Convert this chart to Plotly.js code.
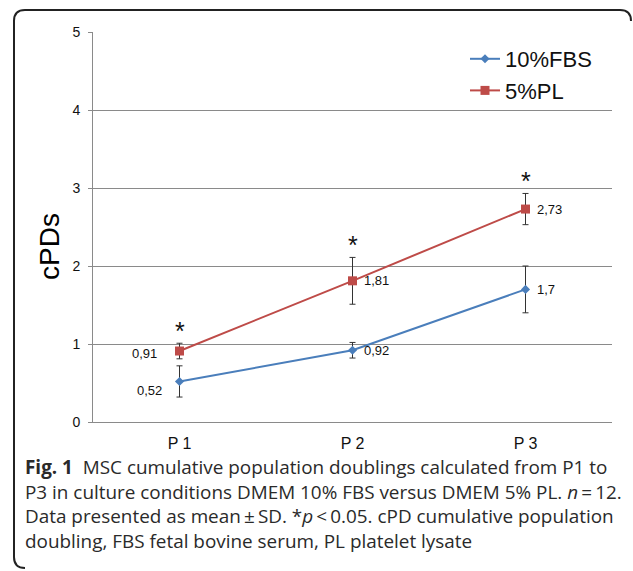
<!DOCTYPE html>
<html>
<head>
<meta charset="utf-8">
<script src="https://cdn.plot.ly/plotly-3.0.1.min.js"></script>
<style>
  html, body { margin: 0; padding: 0; background: #fff; }
  #chart { width: 633px; height: 571px; }
</style>
</head>
<body>
<div id="chart"></div>
<script>
// ---- data ----
var categories = ['P 1', 'P 2', 'P 3'];
var fbsMean = [0.52, 0.92, 1.70];
var fbsSd   = [0.20, 0.10, 0.30];
var plMean  = [0.91, 1.81, 2.73];
var plSd    = [0.10, 0.30, 0.20];
var seriesNames = ['10%FBS', '5%PL'];
var yTicks = [0, 1, 2, 3, 4, 5];
var captionLines = [
  '<b>Fig. 1</b>\u00a0\u00a0MSC cumulative population doublings calculated from P1 to',
  'P3 in culture conditions DMEM 10% FBS versus DMEM 5% PL. <i>n</i>\u2009=\u200912.',
  'Data presented as mean\u2009\u00b1\u2009SD. *<i>p</i>\u2009<\u20090.05. cPD cumulative population',
  'doubling, FBS fetal bovine serum, PL platelet lysate'
];

// ---- layout geometry ----
var W = 633, H = 571;
var M = {l: 93, r: 21, t: 32, b: 149};
var PW = W - M.l - M.r, PH = H - M.t - M.b;
function px(x) { return (x - M.l) / PW; }
function py(y) { return (H - M.b - y) / PH; }

function fmt(v) { return String(Math.round(v * 100) / 100).replace('.', ','); }

var blue = '#4A7EBB', red = '#BE4B48';
var arial = 'Liberation Sans, Arial, sans-serif';
var labelFont = {family: arial, size: 13, color: '#111'};

var traces = [
  {
    x: categories, y: fbsMean, name: seriesNames[0], type: 'scatter',
    mode: 'lines+markers',
    line: {color: blue, width: 2},
    marker: {symbol: 'diamond', size: 7, color: blue},
    error_y: {type: 'data', array: fbsSd, visible: true, color: '#333', thickness: 1, width: 3}
  },
  {
    x: categories, y: plMean, name: seriesNames[1], type: 'scatter',
    mode: 'lines+markers',
    line: {color: red, width: 2},
    marker: {symbol: 'square', size: 9, color: red},
    error_y: {type: 'data', array: plSd, visible: true, color: '#333', thickness: 1, width: 3}
  }
];

var annotations = [];
// value labels
function addLabel(cat, v, anchor, dx, dy) {
  annotations.push({
    x: cat, y: v, xref: 'x', yref: 'y', text: fmt(v), showarrow: false,
    xanchor: anchor, yanchor: 'middle', xshift: dx, yshift: dy, font: labelFont
  });
}
addLabel(categories[0], fbsMean[0], 'right', -16, -9);
addLabel(categories[1], fbsMean[1], 'left', 9, 0);
addLabel(categories[2], fbsMean[2], 'left', 9, 0);
addLabel(categories[0], plMean[0], 'right', -21, -2);
addLabel(categories[1], plMean[1], 'left', 9, 0);
addLabel(categories[2], plMean[2], 'left', 9, 0);

// significance stars above the PL error bars
for (var i = 0; i < categories.length; i++) {
  annotations.push({
    x: categories[i], y: plMean[i] + plSd[i], xref: 'x', yref: 'y',
    text: '*', showarrow: false, yanchor: 'bottom', yshift: -4,
    font: {family: arial, size: 25, color: '#111'}
  });
}
// y-axis title
annotations.push({
  xref: 'paper', yref: 'paper', x: px(49), y: py(247), text: 'cPDs',
  textangle: -90, showarrow: false, xanchor: 'center', yanchor: 'middle',
  font: {family: arial, size: 28, color: '#000'}
});
// caption
annotations.push({
  xref: 'paper', yref: 'paper', x: px(24), y: py(504), text: captionLines.join('<br>'),
  showarrow: false, xanchor: 'left', yanchor: 'middle', align: 'left', borderpad: 0,
  font: {family: 'Open Sans, Noto Sans, sans-serif', size: 18.9, color: '#2a2a2a'}
});

// rounded frame
var fx0 = 14, fx1 = 631, fy0 = 10, fy1 = 568, r = 11;
function P(x, y) { return px(x).toFixed(5) + ',' + py(y).toFixed(5); }
var framePath = 'M ' + P(fx0, fy0 + r) +
  ' Q ' + P(fx0, fy0) + ' ' + P(fx0 + r, fy0) +
  ' L ' + P(fx1 - r, fy0) +
  ' Q ' + P(fx1, fy0) + ' ' + P(fx1, fy0 + r) +
  ' M ' + P(fx0, fy0 + r) +
  ' L ' + P(fx0, fy1 - r) +
  ' Q ' + P(fx0, fy1) + ' ' + P(fx0 + r, fy1);

var gray = '#8a8a8a';
var layout = {
  width: W, height: H,
  margin: M,
  paper_bgcolor: '#fff', plot_bgcolor: '#fff',
  showlegend: true,
  legend: {
    x: px(465), y: py(38), xanchor: 'left', yanchor: 'top',
    bgcolor: 'rgba(0,0,0,0)', itemwidth: 30,
    font: {family: arial, size: 22, color: '#111'}
  },
  xaxis: {
    type: 'category', range: [-0.5, 2.5], showgrid: false,
    showline: true, linecolor: gray, linewidth: 1, zeroline: false,
    ticks: '', ticklabelstandoff: 7,
    tickfont: {family: arial, size: 16, color: '#111'}
  },
  yaxis: {
    range: [0, 5], tickvals: yTicks, ticktext: yTicks.map(String),
    showgrid: true, gridcolor: gray, gridwidth: 1,
    showline: true, linecolor: gray, linewidth: 1, zeroline: false,
    ticks: 'outside', ticklen: 4, tickcolor: gray, ticklabelstandoff: 5,
    tickfont: {family: arial, size: 14, color: '#111'}
  },
  annotations: annotations,
  shapes: [{
    type: 'path', xref: 'paper', yref: 'paper', path: framePath,
    line: {color: '#222', width: 2}
  }]
};

Plotly.newPlot('chart', traces, layout, {displayModeBar: false, staticPlot: true});
</script>
</body>
</html>
